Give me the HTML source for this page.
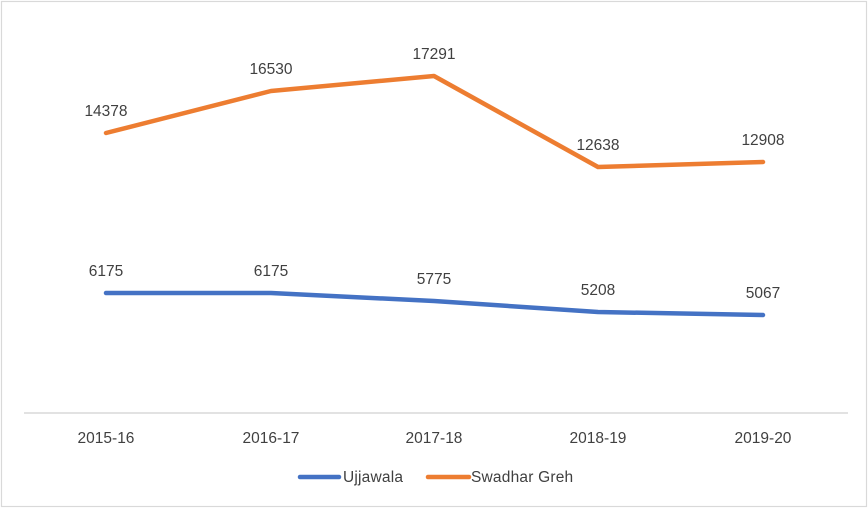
<!DOCTYPE html>
<html><head><style>html,body{margin:0;padding:0;background:#fff}</style></head>
<body>
<svg width="868" height="508" xmlns="http://www.w3.org/2000/svg" font-family="Liberation Sans, sans-serif" font-size="15.5" fill="#404040">
<rect x="1.5" y="1.5" width="865" height="505" fill="#fff" stroke="#d9d9d9" stroke-width="1.2"/>
<line x1="24" y1="413" x2="848" y2="413" stroke="#d9d9d9" stroke-width="1.5"/>
<polyline points="106,133 271,91 434,76 598,167 763,162" fill="none" stroke="#ed7d31" stroke-width="4.5" stroke-linejoin="round" stroke-linecap="round"/>
<polyline points="106,293 271,293 434,301 598,312 763,315" fill="none" stroke="#4472c4" stroke-width="4.5" stroke-linejoin="round" stroke-linecap="round"/>
<g text-anchor="middle">
<text x="106" y="116">14378</text>
<text x="271" y="74">16530</text>
<text x="434" y="59">17291</text>
<text x="598" y="150">12638</text>
<text x="763" y="145">12908</text>
<text x="106" y="276">6175</text>
<text x="271" y="276">6175</text>
<text x="434" y="284">5775</text>
<text x="598" y="295">5208</text>
<text x="763" y="298">5067</text>
<text x="106" y="443">2015-16</text>
<text x="271" y="443">2016-17</text>
<text x="434" y="443">2017-18</text>
<text x="598" y="443">2018-19</text>
<text x="763" y="443">2019-20</text>
</g>
<line x1="300" y1="477" x2="339" y2="477" stroke="#4472c4" stroke-width="4.5" stroke-linecap="round"/>
<text x="343" y="482" letter-spacing="0.2">Ujjawala</text>
<line x1="428" y1="477" x2="469" y2="477" stroke="#ed7d31" stroke-width="4.5" stroke-linecap="round"/>
<text x="471" y="482" letter-spacing="0.2">Swadhar Greh</text>
</svg>
</body></html>
